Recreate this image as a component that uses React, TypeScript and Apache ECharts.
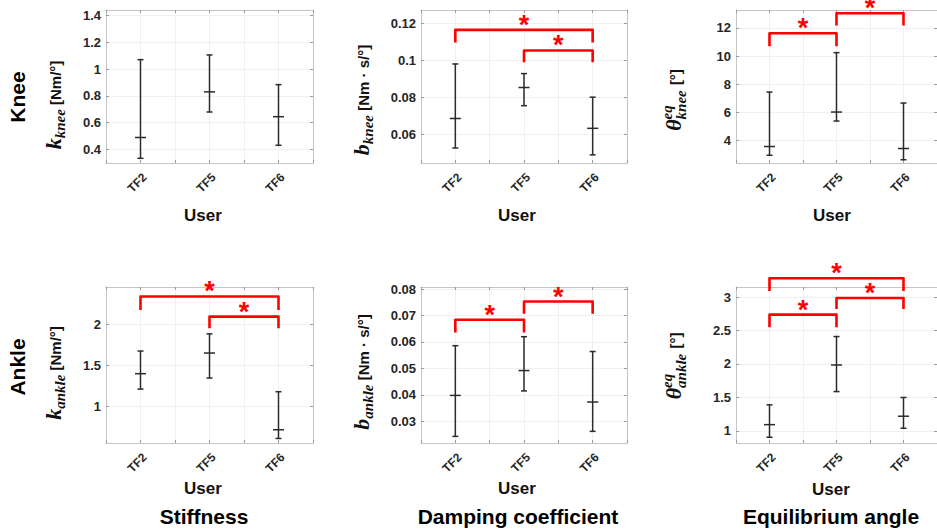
import React, { useEffect, useRef } from "react";
import * as echarts from "echarts";

// ---------- data ----------
const users = ["TF2", "TF5", "TF6"];

const kneeStiffMean = [0.49, 0.83, 0.645];
const kneeStiffLo = [0.335, 0.68, 0.432];
const kneeStiffHi = [1.07, 1.105, 0.884];

const kneeDampMean = [0.0686, 0.0853, 0.0633];
const kneeDampLo = [0.0527, 0.0755, 0.049];
const kneeDampHi = [0.098, 0.0928, 0.0801];

const kneeEqMean = [3.57, 6.02, 3.43];
const kneeEqLo = [2.95, 5.38, 2.63];
const kneeEqHi = [7.44, 10.24, 6.66];

const ankleStiffMean = [1.397, 1.648, 0.716];
const ankleStiffLo = [1.21, 1.344, 0.61];
const ankleStiffHi = [1.672, 1.881, 1.178];

const ankleDampMean = [0.0398, 0.0492, 0.0373];
const ankleDampLo = [0.0243, 0.0415, 0.0262];
const ankleDampHi = [0.0586, 0.062, 0.0564];

const ankleEqMean = [1.094, 1.985, 1.22];
const ankleEqLo = [0.906, 1.588, 1.04];
const ankleEqHi = [1.39, 2.41, 1.5];

// significance brackets: [fromUser, toUser, topValue, legEndValue]
const kneeStiffSig: number[][] = [];
const kneeDampSig = [[1, 3, 0.1164, 0.1096], [2, 3, 0.1053, 0.0989]];
const kneeEqSig = [[1, 2, 11.62, 10.7], [2, 3, 13.04, 12.16]];
const ankleStiffSig = [[1, 3, 2.335, 2.17], [2, 3, 2.09, 1.95]];
const ankleDampSig = [[1, 2, 0.0684, 0.0636], [2, 3, 0.0753, 0.0707]];
const ankleEqSig = [[1, 2, 2.737, 2.547], [2, 3, 2.985, 2.82], [1, 3, 3.28, 3.09]];

// y-axis tick labels
const kneeStiffTicks = [0.4, 0.6, 0.8, 1, 1.2, 1.4];
const kneeDampTicks = [0.06, 0.08, 0.1, 0.12];
const kneeEqTicks = [4, 6, 8, 10, 12];
const ankleStiffTicks = [1, 1.5, 2];
const ankleDampTicks = [0.03, 0.04, 0.05, 0.06, 0.07, 0.08];
const ankleEqTicks = [1, 1.5, 2, 2.5, 3];

const rowLabels = ["Knee", "Ankle"];
const columnTitles = ["Stiffness", "Damping coefficient", "Equilibrium angle"];
const xTitle = "User";

// ---------- styles ----------
const SANS = "Liberation Sans";
const SERIF = "Liberation Serif";
const BOX = "#c4c4c4";
const TICKC = "#9a9a9a";
const GRIDC = "#f0f0f0";
const LABELC = "#262626";
const BAR = "#2b2b2b";
const RED = "#ff0000";

type F = { size: number; weight: string; style: string; family: string };
const SYM: F = { size: 22, weight: "bold", style: "italic", family: SERIF };
const SUB: F = { size: 15, weight: "bold", style: "italic", family: SERIF };
const UNIT: F = { size: 15, weight: "bold", style: "normal", family: SANS };

const panels = [
  { grid: { left: 106, top: 10, width: 207, height: 153 }, min: 0.3, max: 1.44, ticks: kneeStiffTicks, mean: kneeStiffMean, lo: kneeStiffLo, hi: kneeStiffHi, sig: kneeStiffSig,
    label: { x: 61, y: 105, parts: [{ t: "k", f: SYM }, { t: "knee", f: SUB, dy: 4 }, { t: " [Nm/°]", f: UNIT }] }, user: [203, 215] },
  { grid: { left: 421, top: 10, width: 206, height: 153 }, min: 0.0446, max: 0.1271, ticks: kneeDampTicks, mean: kneeDampMean, lo: kneeDampLo, hi: kneeDampHi, sig: kneeDampSig,
    label: { x: 369, y: 100, parts: [{ t: "b", f: SYM }, { t: "knee", f: SUB, dy: 4 }, { t: " [Nm · s/°]", f: UNIT }] }, user: [517, 215] },
  { grid: { left: 736, top: 10, width: 207, height: 153 }, min: 2.4, max: 13.27, ticks: kneeEqTicks, mean: kneeEqMean, lo: kneeEqLo, hi: kneeEqHi, sig: kneeEqSig,
    label: { x: 681, y: 100, parts: [{ t: "θ", f: SYM }, { sup: "eq", sub: "knee", f: SUB }, { t: " [°]", f: UNIT }] }, user: [832, 215] },
  { grid: { left: 106, top: 287, width: 207, height: 156 }, min: 0.555, max: 2.45, ticks: ankleStiffTicks, mean: ankleStiffMean, lo: ankleStiffLo, hi: ankleStiffHi, sig: ankleStiffSig,
    label: { x: 61, y: 373, parts: [{ t: "k", f: SYM }, { t: "ankle", f: SUB, dy: 4 }, { t: " [Nm/°]", f: UNIT }] }, user: [203, 488] },
  { grid: { left: 421, top: 287, width: 206, height: 156 }, min: 0.0218, max: 0.0808, ticks: ankleDampTicks, mean: ankleDampMean, lo: ankleDampLo, hi: ankleDampHi, sig: ankleDampSig,
    label: { x: 369, y: 372, parts: [{ t: "b", f: SYM }, { t: "ankle", f: SUB, dy: 4 }, { t: " [Nm · s/°]", f: UNIT }] }, user: [517, 488] },
  { grid: { left: 736, top: 287, width: 207, height: 156 }, min: 0.82, max: 3.15, ticks: ankleEqTicks, mean: ankleEqMean, lo: ankleEqLo, hi: ankleEqHi, sig: ankleEqSig,
    label: { x: 681, y: 366, parts: [{ t: "θ", f: SYM }, { sup: "eq", sub: "ankle", f: SUB }, { t: " [°]", f: UNIT }] }, user: [831, 489] },
];

const fmt = (v: number) => String(Number(v.toFixed(4)));

let measureCtx: CanvasRenderingContext2D | null = null;
function tw(text: string, f: F) {
  if (!measureCtx) measureCtx = document.createElement("canvas").getContext("2d");
  measureCtx!.font = `${f.style} ${f.weight} ${f.size}px "${f.family}"`;
  return measureCtx!.measureText(text).width;
}

function buildYLabel(label: any) {
  const widths = label.parts.map((p: any) =>
    p.t !== undefined ? tw(p.t, p.f) : Math.max(tw(p.sup, p.f), tw(p.sub, p.f)) + 1
  );
  const total = widths.reduce((a: number, b: number) => a + b, 0);
  let cx = -total / 2;
  const children: any[] = [];
  const place = (text: string, f: F, x: number, base: number) => {
    children.push({
      type: "text",
      x,
      y: base - 0.34 * f.size,
      style: {
        text,
        fontSize: f.size,
        fontWeight: f.weight,
        fontStyle: f.style,
        fontFamily: f.family,
        fill: "#111",
        align: "left",
        verticalAlign: "middle",
      },
    });
  };
  label.parts.forEach((p: any, i: number) => {
    if (p.t !== undefined) {
      place(p.t, p.f, cx, p.dy || 0);
    } else {
      place(p.sup, p.f, cx, -9);
      place(p.sub, p.f, cx, 5);
    }
    cx += widths[i];
  });
  return { type: "group", x: label.x, y: label.y, rotation: Math.PI / 2, children };
}

export default function App() {
  const ref = useRef<HTMLDivElement>(null);
  useEffect(() => {
    if (!ref.current) return;
    const chart = echarts.init(ref.current, null, { renderer: "svg" });

    const grid: any[] = [];
    const xAxis: any[] = [];
    const yAxis: any[] = [];
    const series: any[] = [];
    const graphic: any[] = [];

    panels.forEach((p, i) => {
      grid.push({ ...p.grid, containLabel: false });
      const tickStyle = { show: true, inside: true, length: 3, lineStyle: { color: TICKC, width: 1 } };
      xAxis.push({
        gridIndex: i, type: "value", min: 0.5, max: 3.5, interval: 0.5, position: "bottom",
        axisLine: { show: true, lineStyle: { color: BOX, width: 1 } },
        axisTick: tickStyle,
        axisLabel: {
          customValues: [1, 2, 3],
          formatter: (v: number) => (Number.isInteger(v) && v >= 1 && v <= 3 ? users[v - 1] : ""),
          rotate: 45, margin: 8, verticalAlign: "top", color: LABELC, fontFamily: SANS, fontWeight: "bold", fontSize: 12,
        },
        splitLine: { show: true, lineStyle: { color: GRIDC, width: 1 } },
      });
      xAxis.push({
        gridIndex: i, type: "value", min: 0.5, max: 3.5, interval: 0.5, position: "top",
        axisLine: { show: true, lineStyle: { color: BOX, width: 1 } },
        axisTick: tickStyle, axisLabel: { show: false }, splitLine: { show: false },
      });
      yAxis.push({
        gridIndex: i, type: "value", min: p.min, max: p.max, position: "left",
        axisLine: { show: true, lineStyle: { color: BOX, width: 1 } },
        axisTick: { ...tickStyle, customValues: p.ticks },
        axisLabel: { customValues: p.ticks, formatter: fmt, margin: 5, color: LABELC, fontFamily: SANS, fontWeight: "bold", fontSize: 13 },
        splitLine: { show: true, lineStyle: { color: GRIDC, width: 1 } },
      });
      yAxis.push({
        gridIndex: i, type: "value", min: p.min, max: p.max, position: "right",
        axisLine: { show: true, lineStyle: { color: BOX, width: 1 } },
        axisTick: { ...tickStyle, customValues: p.ticks }, axisLabel: { show: false }, splitLine: { show: false },
      });

      series.push({
        type: "custom",
        xAxisIndex: 2 * i,
        yAxisIndex: 2 * i,
        clip: false,
        silent: true,
        data: users.map((_, j) => [j + 1, p.mean[j], p.lo[j], p.hi[j]]),
        encode: { x: 0, y: [1, 2, 3] },
        renderItem: (params: any, api: any) => {
          const x = api.value(0);
          const pm = api.coord([x, api.value(1)]);
          const pl = api.coord([x, api.value(2)]);
          const ph = api.coord([x, api.value(3)]);
          const st = { stroke: BAR, lineWidth: 1.5 };
          const cap = 3;
          const mw = 5.5;
          return {
            type: "group",
            children: [
              { type: "line", shape: { x1: pl[0], y1: pl[1], x2: ph[0], y2: ph[1] }, style: st },
              { type: "line", shape: { x1: pl[0] - cap, y1: pl[1], x2: pl[0] + cap, y2: pl[1] }, style: st },
              { type: "line", shape: { x1: ph[0] - cap, y1: ph[1], x2: ph[0] + cap, y2: ph[1] }, style: st },
              { type: "line", shape: { x1: pm[0] - mw, y1: pm[1], x2: pm[0] + mw, y2: pm[1] }, style: st },
            ],
          };
        },
      });

      if (p.sig.length) {
        series.push({
          type: "custom",
          xAxisIndex: 2 * i,
          yAxisIndex: 2 * i,
          clip: false,
          silent: true,
          data: p.sig,
          encode: { x: [0, 1], y: [2, 3] },
          renderItem: (params: any, api: any) => {
            const a = api.coord([api.value(0), api.value(2)]);
            const b = api.coord([api.value(1), api.value(2)]);
            const la = api.coord([api.value(0), api.value(3)]);
            const lb = api.coord([api.value(1), api.value(3)]);
            return {
              type: "group",
              children: [
                {
                  type: "polyline",
                  shape: { points: [[la[0], la[1]], [a[0], a[1]], [b[0], b[1]], [lb[0], lb[1]]] },
                  style: { stroke: RED, lineWidth: 2.6, fill: null, lineJoin: "round", lineCap: "butt" },
                },
                {
                  type: "text",
                  x: (a[0] + b[0]) / 2,
                  y: a[1] - 5,
                  style: { text: "*", fontSize: 27, fontWeight: "bold", fontFamily: SANS, fill: RED, align: "center", verticalAlign: "middle" },
                },
              ],
            };
          },
        });
      }

      graphic.push(buildYLabel(p.label));
      graphic.push({
        type: "text", x: p.user[0], y: p.user[1],
        style: { text: xTitle, fontSize: 17, fontWeight: "bold", fontFamily: SANS, fill: "#111", align: "center", verticalAlign: "middle" },
      });
    });

    graphic.push({
      type: "text", x: 17, y: 97, rotation: Math.PI / 2,
      style: { text: rowLabels[0], fontSize: 21, fontWeight: "bold", fontFamily: SANS, fill: "#000", align: "center", verticalAlign: "middle" },
    });
    graphic.push({
      type: "text", x: 17, y: 367, rotation: Math.PI / 2,
      style: { text: rowLabels[1], fontSize: 21, fontWeight: "bold", fontFamily: SANS, fill: "#000", align: "center", verticalAlign: "middle" },
    });
    const titleX = [204, 518, 831];
    columnTitles.forEach((t, k) => {
      graphic.push({
        type: "text", x: titleX[k], y: 516,
        style: { text: t, fontSize: 21, fontWeight: "bold", fontFamily: SANS, fill: "#000", align: "center", verticalAlign: "middle" },
      });
    });

    chart.setOption({
      animation: false,
      backgroundColor: "#ffffff",
      grid,
      xAxis,
      yAxis,
      series,
      graphic,
    });
    return () => chart.dispose();
  }, []);

  return (
    <div
      ref={ref}
      style={{ position: "absolute", left: 0, top: 0, width: 937, height: 531 }}
    />
  );
}
